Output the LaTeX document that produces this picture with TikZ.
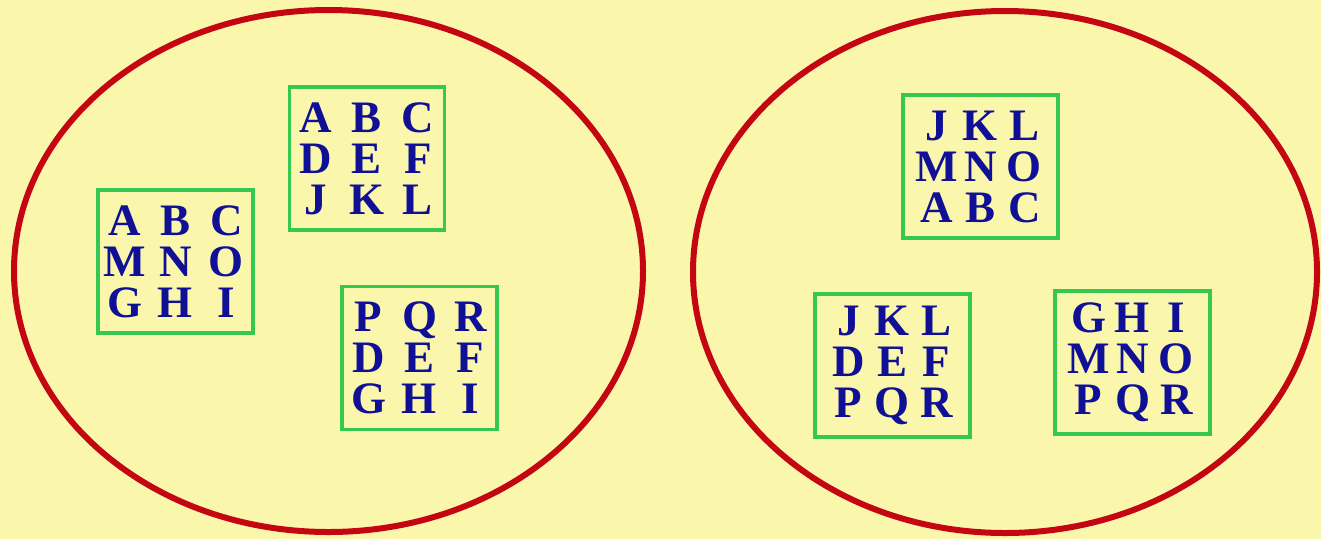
\documentclass[tikz,border=0pt]{standalone}
\usepackage{fontspec}
\usetikzlibrary{shapes.geometric}
\setmainfont{Liberation Serif}
\definecolor{bgyellow}{RGB}{250,247,172}
\definecolor{ringred}{RGB}{196,6,18}
\definecolor{boxgreen}{RGB}{52,200,80}
\definecolor{letterblue}{RGB}{16,16,150}
\newcommand{\lrow}[4]{\makebox[#1]{#2}\makebox[#1]{#3}\makebox[#1]{#4}}
\tikzset{
  ring/.style={draw=ringred, line width=6pt, ellipse, inner sep=0pt},
  lbox/.style={draw=boxgreen, line width=3.8pt, minimum width=155pt, minimum height=143pt,
    inner sep=0pt, text=letterblue, font=\fontsize{45}{41}\selectfont\bfseries, align=center}
}
\begin{document}
\begin{tikzpicture}[x=1pt,y=-1pt]
\fill[bgyellow] (0,0) rectangle (1321,539);
\useasboundingbox (0,0) rectangle (1321,539);
\node[ring, minimum width=629pt, minimum height=522pt] (L) at (328.5,271) {};
\node[ring, minimum width=624pt, minimum height=522pt] (R) at (1005,272) {};
\node[lbox] (b1) at (175.5,261.5) {\lrow{51pt}{A}{B}{C}\\\lrow{51pt}{M}{N}{O}\\\lrow{51pt}{G}{H}{I}};
\node[lbox] (b2) at (367,158.5) {\lrow{51pt}{A}{B}{C}\\\lrow{51pt}{D}{E}{F}\\\lrow{51pt}{J}{K}{L}};
\node[lbox] (b3) at (419.5,358) {\lrow{51pt}{P}{Q}{R}\\\lrow{51pt}{D}{E}{F}\\\lrow{51pt}{G}{H}{I}};
\node[lbox] (b4) at (980.5,166.5) {\lrow{44pt}{J}{K}{L}\\\lrow{44pt}{M}{N}{O}\\\lrow{44pt}{A}{B}{C}};
\node[lbox] (b5) at (892.5,365.5) {\lrow{44pt}{J}{K}{L}\\\lrow{44pt}{D}{E}{F}\\\lrow{44pt}{P}{Q}{R}};
\node[lbox] (b6) at (1132.5,362.5) {\lrow{44pt}{G}{H}{I}\\\lrow{44pt}{M}{N}{O}\\\lrow{44pt}{P}{Q}{R}};
\end{tikzpicture}
\end{document}
